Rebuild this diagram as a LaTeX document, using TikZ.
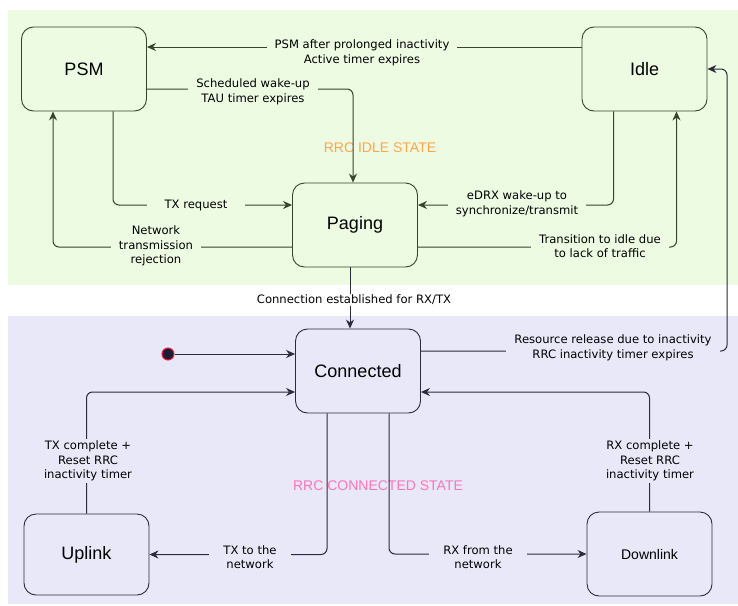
\documentclass[tikz,border=0pt]{standalone}
\usepackage{fontspec}
\setmainfont{Liberation Sans}
\newfontfamily\lblfont{DejaVu Sans}
\usetikzlibrary{arrows.meta,positioning,calc}
\definecolor{idlebg}{HTML}{EDFBE3}
\definecolor{connbg}{HTML}{E8E8F9}
\definecolor{idleline}{HTML}{34452A}
\definecolor{connline}{HTML}{2B2B3D}
\definecolor{idletxt}{HTML}{FFA64D}
\definecolor{conntxt}{HTML}{FF74B8}
\definecolor{dotred}{HTML}{E8203A}
\definecolor{dotfill}{HTML}{1C1C36}

\begin{document}
\begin{tikzpicture}[
    x=1pt, y=-1pt,
    state/.style={rectangle, rounded corners=12pt, minimum width=125pt,
                  minimum height=84pt, align=center, draw, line width=0.9pt,
                  font=\fontsize{18}{20}\selectfont},
    arr/.style={-{Stealth[length=9pt,width=8pt]}, line width=1pt, rounded corners=6pt},
    lbl/.style={align=center, inner xsep=8pt, inner ysep=1.5pt,
                font=\lblfont\fontsize{11.6}{14.6}\selectfont}
  ]

  % ---- Background ----
  \useasboundingbox (0,0) rectangle (738,605);
  \fill[white] (0,0) rectangle (738,605);
  \fill[idlebg] (8,10) rectangle (738,285);
  \fill[connbg] (8,316) rectangle (738,604);

  % ---- Region titles ----
  \node[font=\fontsize{14}{16}\selectfont, text=idletxt] (idletitle) at (380,148) {RRC IDLE STATE};
  \node[font=\fontsize{14}{16}\selectfont, text=conntxt] (conntitle) at (378,486) {RRC CONNECTED STATE};

  % ============ STATES ============
  \node[state, draw=idleline, fill=idlebg] (PSM) at (84,69) {PSM};
  \node[state, draw=idleline, fill=idlebg] (Idle) at (644.5,69) {Idle};
  \node[state, draw=idleline, fill=idlebg] (Paging) at (355,225) {Paging};
  \node[state, draw=connline, fill=connbg] (Conn) at (358,371) {Connected};
  \node[state, draw=connline, fill=connbg, minimum height=81pt] (Up) at (86.5,554.5) {Uplink};
  \node[state, draw=connline, fill=connbg, font=\fontsize{14}{16}\selectfont] (Down) at (649.5,554) {Downlink};

  % initial state
  \node[circle, fill=dotfill, draw=dotred, line width=1pt, minimum size=12pt, inner sep=0pt] (init) at (168,354) {};
  \coordinate (relx) at (727,0);

  % ============ IDLE TRANSITIONS ============
  \draw[arr, idleline] ([yshift=22pt]Idle.west) -- ([yshift=22pt]PSM.east);
  \draw[arr, idleline] ([yshift=-20pt]PSM.east) -| ([xshift=-2pt]Paging.north);
  \draw[arr, idleline] ([xshift=29pt]PSM.south) |- ([yshift=20pt]Paging.west);
  \draw[arr, idleline] ([yshift=-22pt]Paging.west) -| ([xshift=-31pt]PSM.south);
  \draw[arr, idleline] ([xshift=-31pt]Idle.south) |- ([yshift=20pt]Paging.east);
  \draw[arr, idleline] ([yshift=-22pt]Paging.east) -| ([xshift=32pt]Idle.south);

  \node[lbl, fill=idlebg] (l1) at (362,53) {PSM after prolonged inactivity\\Active timer expires};
  \node[lbl, fill=idlebg] (l2) at (253,92) {Scheduled wake-up\\TAU timer expires};
  \node[lbl, fill=idlebg, inner xsep=18pt] (l3) at (196,205) {TX request};
  \node[lbl, fill=idlebg] (l4) at (156,246) {Network\\transmission\\rejection};
  \node[lbl, fill=idlebg] (l5) at (517,204) {eDRX wake-up to\\synchronize/transmit};
  \node[lbl, fill=idlebg] (l6) at (600,246) {Transition to idle due\\to lack of traffic};

  % ============ BETWEEN REGIONS ============
  \draw[arr, connline] ([xshift=-5pt]Paging.south) -- ([xshift=-8pt]Conn.north);
  \node[lbl, fill=white] (l7) at (354,300) {Connection established for RX/TX};

  \draw[arr, connline] ([yshift=20pt]Conn.east) -| (relx |- Idle.east) -- (Idle.east);
  \node[lbl, fill=connbg] (l8) at (613,348) {Resource release due to inactivity\\RRC inactivity timer expires};

  % ============ CONNECTED TRANSITIONS ============
  \draw[arr, connline] (init) -- (Conn.west |- init);
  \draw[arr, connline] (Up.north) |- ([yshift=-21pt]Conn.west);
  \draw[arr, connline] ([xshift=-31pt]Conn.south) |- (Up.east);
  \draw[arr, connline] ([xshift=31pt]Conn.south) |- (Down.west);
  \draw[arr, connline] (Down.north) |- ([yshift=-21pt]Conn.east);

  \node[lbl, fill=connbg] (l9) at (88,461) {TX complete +\\Reset RRC\\inactivity timer};
  \node[lbl, fill=connbg, inner xsep=14pt] (l10) at (250,557) {TX to the\\network};
  \node[lbl, fill=connbg, inner xsep=14pt] (l11) at (478,557) {RX from the\\network};
  \node[lbl, fill=connbg] (l12) at (650,461) {RX complete +\\Reset RRC\\inactivity timer};

\end{tikzpicture}
\end{document}
